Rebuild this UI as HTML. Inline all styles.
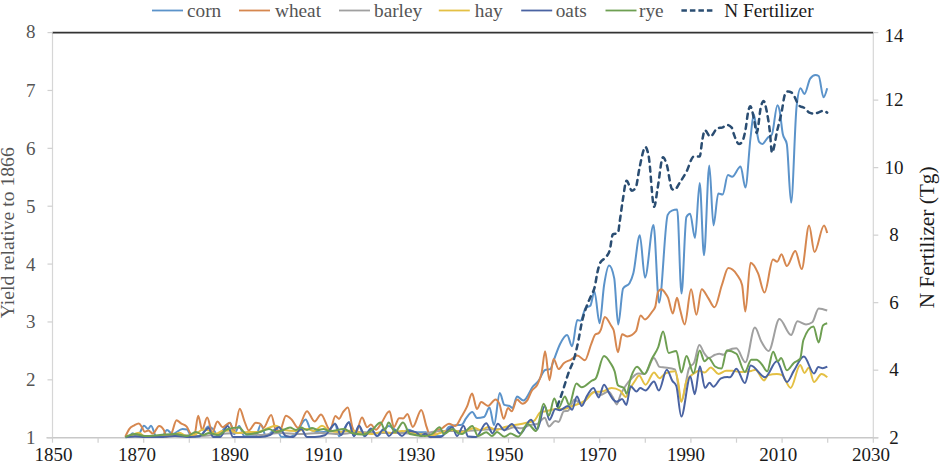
<!DOCTYPE html>
<html><head><meta charset="utf-8"><style>html,body{margin:0;padding:0;background:#fff;width:940px;height:461px;overflow:hidden;position:relative}</style></head>
<body>
<svg width="940" height="461" viewBox="0 0 940 461" style="position:absolute;left:0;top:0"><line x1="52.5" y1="32.6" x2="52.5" y2="437.7" stroke="#d6d6d6" stroke-width="1.2"/><line x1="873.3" y1="32.6" x2="873.3" y2="437.7" stroke="#d6d6d6" stroke-width="1.2"/><line x1="46.5" y1="437.7" x2="878.3" y2="437.7" stroke="#c8c8c8" stroke-width="1.5"/><line x1="52.5" y1="32.6" x2="873.3" y2="32.6" stroke="#333" stroke-width="1.7"/><line x1="52.5" y1="437.7" x2="52.5" y2="442.7" stroke="#d0d0d0" stroke-width="1.2"/><line x1="98.1" y1="437.7" x2="98.1" y2="442.7" stroke="#d0d0d0" stroke-width="1.2"/><line x1="143.7" y1="437.7" x2="143.7" y2="442.7" stroke="#d0d0d0" stroke-width="1.2"/><line x1="189.3" y1="437.7" x2="189.3" y2="442.7" stroke="#d0d0d0" stroke-width="1.2"/><line x1="234.9" y1="437.7" x2="234.9" y2="442.7" stroke="#d0d0d0" stroke-width="1.2"/><line x1="280.5" y1="437.7" x2="280.5" y2="442.7" stroke="#d0d0d0" stroke-width="1.2"/><line x1="326.1" y1="437.7" x2="326.1" y2="442.7" stroke="#d0d0d0" stroke-width="1.2"/><line x1="371.7" y1="437.7" x2="371.7" y2="442.7" stroke="#d0d0d0" stroke-width="1.2"/><line x1="417.3" y1="437.7" x2="417.3" y2="442.7" stroke="#d0d0d0" stroke-width="1.2"/><line x1="462.9" y1="437.7" x2="462.9" y2="442.7" stroke="#d0d0d0" stroke-width="1.2"/><line x1="508.5" y1="437.7" x2="508.5" y2="442.7" stroke="#d0d0d0" stroke-width="1.2"/><line x1="554.1" y1="437.7" x2="554.1" y2="442.7" stroke="#d0d0d0" stroke-width="1.2"/><line x1="599.7" y1="437.7" x2="599.7" y2="442.7" stroke="#d0d0d0" stroke-width="1.2"/><line x1="645.3" y1="437.7" x2="645.3" y2="442.7" stroke="#d0d0d0" stroke-width="1.2"/><line x1="690.9" y1="437.7" x2="690.9" y2="442.7" stroke="#d0d0d0" stroke-width="1.2"/><line x1="736.5" y1="437.7" x2="736.5" y2="442.7" stroke="#d0d0d0" stroke-width="1.2"/><line x1="782.1" y1="437.7" x2="782.1" y2="442.7" stroke="#d0d0d0" stroke-width="1.2"/><line x1="827.7" y1="437.7" x2="827.7" y2="442.7" stroke="#d0d0d0" stroke-width="1.2"/><line x1="873.3" y1="437.7" x2="873.3" y2="442.7" stroke="#d0d0d0" stroke-width="1.2"/><text x="53.5" y="460.5" text-anchor="middle" style="font-family:'Liberation Serif',serif;font-size:19px" fill="#1a1a1a" color="#1a1a1a">1850</text><text x="137" y="460.5" text-anchor="middle" style="font-family:'Liberation Serif',serif;font-size:19px" fill="#1a1a1a" color="#1a1a1a">1870</text><text x="229.9" y="460.5" text-anchor="middle" style="font-family:'Liberation Serif',serif;font-size:19px" fill="#1a1a1a" color="#1a1a1a">1890</text><text x="323.5" y="460.5" text-anchor="middle" style="font-family:'Liberation Serif',serif;font-size:19px" fill="#1a1a1a" color="#1a1a1a">1910</text><text x="416.2" y="460.5" text-anchor="middle" style="font-family:'Liberation Serif',serif;font-size:19px" fill="#1a1a1a" color="#1a1a1a">1930</text><text x="504.5" y="460.5" text-anchor="middle" style="font-family:'Liberation Serif',serif;font-size:19px" fill="#1a1a1a" color="#1a1a1a">1950</text><text x="597.7" y="460.5" text-anchor="middle" style="font-family:'Liberation Serif',serif;font-size:19px" fill="#1a1a1a" color="#1a1a1a">1970</text><text x="686" y="460.5" text-anchor="middle" style="font-family:'Liberation Serif',serif;font-size:19px" fill="#1a1a1a" color="#1a1a1a">1990</text><text x="778.3" y="460.5" text-anchor="middle" style="font-family:'Liberation Serif',serif;font-size:19px" fill="#1a1a1a" color="#1a1a1a">2010</text><text x="870.9" y="460.5" text-anchor="middle" style="font-family:'Liberation Serif',serif;font-size:19px" fill="#1a1a1a" color="#1a1a1a">2030</text><line x1="47.5" y1="437.7" x2="52.5" y2="437.7" stroke="#d0d0d0" stroke-width="1.2"/><text x="35.5" y="444.2" text-anchor="end" style="font-family:'Liberation Serif',serif;font-size:19px" fill="#555555" color="#555555">1</text><line x1="47.5" y1="379.8285714285714" x2="52.5" y2="379.8285714285714" stroke="#d0d0d0" stroke-width="1.2"/><text x="35.5" y="386.3285714285714" text-anchor="end" style="font-family:'Liberation Serif',serif;font-size:19px" fill="#555555" color="#555555">2</text><line x1="47.5" y1="321.95714285714286" x2="52.5" y2="321.95714285714286" stroke="#d0d0d0" stroke-width="1.2"/><text x="35.5" y="328.45714285714286" text-anchor="end" style="font-family:'Liberation Serif',serif;font-size:19px" fill="#555555" color="#555555">3</text><line x1="47.5" y1="264.0857142857143" x2="52.5" y2="264.0857142857143" stroke="#d0d0d0" stroke-width="1.2"/><text x="35.5" y="270.5857142857143" text-anchor="end" style="font-family:'Liberation Serif',serif;font-size:19px" fill="#555555" color="#555555">4</text><line x1="47.5" y1="206.21428571428572" x2="52.5" y2="206.21428571428572" stroke="#d0d0d0" stroke-width="1.2"/><text x="35.5" y="212.71428571428572" text-anchor="end" style="font-family:'Liberation Serif',serif;font-size:19px" fill="#555555" color="#555555">5</text><line x1="47.5" y1="148.34285714285716" x2="52.5" y2="148.34285714285716" stroke="#d0d0d0" stroke-width="1.2"/><text x="35.5" y="154.84285714285716" text-anchor="end" style="font-family:'Liberation Serif',serif;font-size:19px" fill="#555555" color="#555555">6</text><line x1="47.5" y1="90.47142857142859" x2="52.5" y2="90.47142857142859" stroke="#d0d0d0" stroke-width="1.2"/><text x="35.5" y="96.97142857142859" text-anchor="end" style="font-family:'Liberation Serif',serif;font-size:19px" fill="#555555" color="#555555">7</text><line x1="47.5" y1="32.60000000000002" x2="52.5" y2="32.60000000000002" stroke="#d0d0d0" stroke-width="1.2"/><text x="35.5" y="37.60000000000002" text-anchor="end" style="font-family:'Liberation Serif',serif;font-size:19px" fill="#555555" color="#555555">8</text><line x1="873.3" y1="437.7" x2="878.3" y2="437.7" stroke="#d0d0d0" stroke-width="1.2"/><text x="894" y="444.0" text-anchor="middle" style="font-family:'Liberation Serif',serif;font-size:19px" fill="#1a1a1a" color="#1a1a1a">2</text><line x1="873.3" y1="370.18333333333334" x2="878.3" y2="370.18333333333334" stroke="#d0d0d0" stroke-width="1.2"/><text x="894" y="376.48333333333335" text-anchor="middle" style="font-family:'Liberation Serif',serif;font-size:19px" fill="#1a1a1a" color="#1a1a1a">4</text><line x1="873.3" y1="302.66666666666663" x2="878.3" y2="302.66666666666663" stroke="#d0d0d0" stroke-width="1.2"/><text x="894" y="308.96666666666664" text-anchor="middle" style="font-family:'Liberation Serif',serif;font-size:19px" fill="#1a1a1a" color="#1a1a1a">6</text><line x1="873.3" y1="235.15" x2="878.3" y2="235.15" stroke="#d0d0d0" stroke-width="1.2"/><text x="894" y="241.45000000000002" text-anchor="middle" style="font-family:'Liberation Serif',serif;font-size:19px" fill="#1a1a1a" color="#1a1a1a">8</text><line x1="873.3" y1="167.63333333333333" x2="878.3" y2="167.63333333333333" stroke="#d0d0d0" stroke-width="1.2"/><text x="894" y="173.93333333333334" text-anchor="middle" style="font-family:'Liberation Serif',serif;font-size:19px" fill="#1a1a1a" color="#1a1a1a">10</text><line x1="873.3" y1="100.11666666666667" x2="878.3" y2="100.11666666666667" stroke="#d0d0d0" stroke-width="1.2"/><text x="894" y="106.41666666666667" text-anchor="middle" style="font-family:'Liberation Serif',serif;font-size:19px" fill="#1a1a1a" color="#1a1a1a">12</text><line x1="873.3" y1="32.60000000000002" x2="878.3" y2="32.60000000000002" stroke="#d0d0d0" stroke-width="1.2"/><text x="894" y="41.70000000000002" text-anchor="middle" style="font-family:'Liberation Serif',serif;font-size:19px" fill="#1a1a1a" color="#1a1a1a">14</text><text transform="translate(14.4,232.8) rotate(-90)" text-anchor="middle" style="font-family:'Liberation Serif',serif;font-size:19.7px" fill="#555555" color="#555555">Yield relative to 1866</text><text transform="translate(934,237.4) rotate(-90)" text-anchor="middle" style="font-family:'Liberation Serif',serif;font-size:21.3px" fill="#1a1a1a" color="#1a1a1a">N Fertilizer (Tg)</text><line x1="152" y1="10.5" x2="183" y2="10.5"  stroke="#5b93ca" stroke-width="1.8"/><text x="187" y="16.5" style="font-family:'Liberation Serif',serif;font-size:19.3px" fill="#555555" color="#555555">corn</text><line x1="239" y1="10.5" x2="270" y2="10.5"  stroke="#d6874f" stroke-width="1.8"/><text x="275" y="16.5" style="font-family:'Liberation Serif',serif;font-size:19.3px" fill="#555555" color="#555555">wheat</text><line x1="339" y1="10.5" x2="370" y2="10.5"  stroke="#a0a0a0" stroke-width="1.8"/><text x="374" y="16.5" style="font-family:'Liberation Serif',serif;font-size:19.3px" fill="#555555" color="#555555">barley</text><line x1="438.8" y1="10.5" x2="469.8" y2="10.5"  stroke="#e4c044" stroke-width="1.8"/><text x="474.8" y="16.5" style="font-family:'Liberation Serif',serif;font-size:19.3px" fill="#555555" color="#555555">hay</text><line x1="521.2" y1="10.5" x2="552.2" y2="10.5"  stroke="#4a63a2" stroke-width="1.8"/><text x="555.7" y="16.5" style="font-family:'Liberation Serif',serif;font-size:19.3px" fill="#555555" color="#555555">oats</text><line x1="605.5" y1="10.5" x2="636.5" y2="10.5"  stroke="#6e9f52" stroke-width="1.8"/><text x="639" y="16.5" style="font-family:'Liberation Serif',serif;font-size:19.3px" fill="#555555" color="#555555">rye</text><line x1="681.4" y1="10.5" x2="712.4" y2="10.5"  stroke="#2a4d72" stroke-width="2.3" stroke-dasharray="5.5,3"/><text x="724.2" y="16.5" style="font-family:'Liberation Serif',serif;font-size:19.3px" fill="#1a1a1a" color="#1a1a1a">N Fertilizer</text><path d="M125.5,437.5 C126.73,437.22 127.97,436.93 129.2,436.2 C130.40,435.49 131.60,433.20 132.8,433.2 C133.87,433.20 134.93,435.90 136.0,435.9 C136.70,435.90 137.40,435.77 138.1,435.5 C140.07,434.75 142.03,425.70 144.0,425.7 C145.40,425.70 146.80,428.90 148.2,428.9 C149.13,428.90 150.07,425.70 151.0,425.7 C152.83,425.70 154.67,437.00 156.5,437.0 C158.33,437.00 160.17,437.00 162.0,437.0 C163.67,437.00 165.33,430.00 167.0,430.0 C168.83,430.00 170.67,434.00 172.5,434.0 C175.83,434.00 179.17,429.00 182.5,429.0 C184.00,429.00 185.50,429.17 187.0,429.5 C188.33,429.80 189.67,435.71 191.0,435.9 C193.83,436.30 196.67,436.50 199.5,436.5 C202.50,436.50 205.50,426.50 208.5,426.5 C210.00,426.50 211.50,427.57 213.0,429.0 C214.67,430.59 216.33,436.00 218.0,436.0 C219.00,436.00 220.00,434.15 221.0,433.0 C222.67,431.08 224.33,427.78 226.0,426.0 C227.40,424.51 228.80,422.70 230.2,422.7 C231.50,422.70 232.80,434.20 234.1,434.2 C235.80,434.20 237.50,425.90 239.2,425.9 C240.90,425.90 242.60,436.20 244.3,436.2 C248.13,436.20 251.97,436.20 255.8,436.2 C257.50,436.20 259.20,424.60 260.9,424.6 C262.60,424.60 264.30,436.20 266.0,436.2 C267.73,436.20 269.47,433.60 271.2,432.3 C272.90,431.03 274.60,428.50 276.3,428.5 C278.00,428.50 279.70,436.72 281.4,436.8 C284.27,436.93 287.13,437.00 290.0,437.0 C292.23,437.00 294.47,434.55 296.7,432.3 C299.70,429.27 302.70,419.50 305.7,419.5 C307.40,419.50 309.10,428.84 310.8,429.8 C313.77,431.47 316.73,432.30 319.7,432.3 C322.70,432.30 325.70,431.87 328.7,431.0 C330.83,430.38 332.97,423.40 335.1,423.4 C336.40,423.40 337.70,436.20 339.0,436.2 C342.40,436.20 345.80,422.10 349.2,422.1 C350.70,422.10 352.20,436.20 353.7,436.2 C355.40,436.20 357.10,425.90 358.8,425.9 C360.70,425.90 362.60,436.20 364.5,436.2 C366.63,436.20 368.77,428.50 370.9,428.5 C372.93,428.50 374.97,436.00 377.0,436.0 C379.67,436.00 382.33,430.54 385.0,428.5 C386.27,427.53 387.53,425.90 388.8,425.9 C390.93,425.90 393.07,428.64 395.2,429.8 C397.47,431.03 399.73,433.00 402.0,433.0 C404.00,433.00 406.00,429.80 408.0,429.8 C411.00,429.80 414.00,432.30 417.0,432.3 C419.97,432.30 422.93,432.30 425.9,432.3 C428.27,432.30 430.63,436.00 433.0,436.0 C436.00,436.00 439.00,436.00 442.0,436.0 C444.30,436.00 446.60,428.05 448.9,426.9 C451.03,425.83 453.17,425.63 455.3,425.3 C457.43,424.97 459.57,425.13 461.7,424.8 C463.13,424.58 464.57,420.26 466.0,418.4 C468.10,415.68 470.20,412.00 472.3,412.0 C473.87,412.00 475.43,418.00 477.0,418.0 C479.33,418.00 481.67,417.67 484.0,417.0 C485.83,416.48 487.67,407.50 489.5,407.5 C491.00,407.50 492.50,425.00 494.0,425.0 C495.93,425.00 497.87,393.10 499.8,393.1 C501.30,393.10 502.80,404.28 504.3,404.9 C506.07,405.63 507.83,405.27 509.6,406.0 C510.60,406.42 511.60,408.00 512.6,408.0 C514.07,408.00 515.53,396.40 517.0,396.4 C519.13,396.40 521.27,400.60 523.4,400.6 C526.67,400.60 529.93,389.99 533.2,386.2 C534.90,384.23 536.60,383.26 538.3,381.1 C540.57,378.22 542.83,370.80 545.1,370.0 C546.80,369.40 548.50,369.70 550.2,369.1 C551.33,368.70 552.47,363.46 553.6,360.6 C555.80,355.05 558.00,347.94 560.2,343.7 C562.50,339.27 564.80,335.00 567.1,335.0 C568.77,335.00 570.43,346.30 572.1,346.3 C573.83,346.30 575.57,320.10 577.3,320.1 C578.37,320.10 579.43,320.70 580.5,320.7 C582.20,320.70 583.90,309.42 585.6,307.9 C587.17,306.50 588.73,307.20 590.3,305.8 C591.67,304.58 593.03,291.50 594.4,291.5 C596.13,291.50 597.87,323.20 599.6,323.2 C601.10,323.20 602.60,294.47 604.1,285.0 C605.77,274.47 607.43,265.50 609.1,265.5 C610.80,265.50 612.50,269.70 614.2,278.1 C615.53,284.69 616.87,324.50 618.2,324.5 C619.83,324.50 621.47,291.05 623.1,288.4 C625.23,284.93 627.37,286.67 629.5,283.2 C630.80,281.09 632.10,278.02 633.4,273.0 C635.53,264.76 637.67,235.20 639.8,235.2 C641.53,235.20 643.27,277.70 645.0,277.7 C647.83,277.70 650.67,225.00 653.5,225.0 C655.37,225.00 657.23,302.80 659.1,302.8 C661.97,302.80 664.83,220.77 667.7,214.9 C669.10,212.03 670.50,211.13 671.9,210.6 C673.67,209.93 675.43,209.60 677.2,209.6 C678.63,209.60 680.07,293.60 681.5,293.6 C683.13,293.60 684.77,219.73 686.4,216.9 C687.63,214.77 688.87,213.70 690.1,213.7 C691.73,213.70 693.37,238.00 695.0,238.0 C696.57,238.00 698.13,183.00 699.7,183.0 C701.13,183.00 702.57,255.30 704.0,255.3 C705.77,255.30 707.53,165.50 709.3,165.5 C710.70,165.50 712.10,225.40 713.5,225.4 C715.10,225.40 716.70,193.50 718.3,193.5 C719.73,193.50 721.17,194.60 722.6,194.6 C724.37,194.60 726.13,175.10 727.9,175.1 C729.30,175.10 730.70,176.70 732.1,176.7 C734.93,176.70 737.77,166.60 740.6,166.6 C742.20,166.60 743.80,187.50 745.4,187.5 C747.10,187.50 748.80,151.89 750.5,138.0 C751.60,129.01 752.70,114.30 753.8,114.3 C754.60,114.30 755.40,123.39 756.2,127.6 C757.17,132.69 758.13,140.63 759.1,141.9 C760.17,143.30 761.23,144.00 762.3,144.0 C764.10,144.00 765.90,139.39 767.7,137.7 C769.10,136.39 770.50,136.63 771.9,134.5 C773.73,131.71 775.57,105.20 777.4,105.2 C778.13,105.20 778.87,107.26 779.6,110.5 C780.67,115.21 781.73,128.67 782.8,134.0 C784.13,140.67 785.47,137.33 786.8,144.0 C788.23,151.17 789.67,202.60 791.1,202.6 C792.93,202.60 794.77,122.89 796.6,106.3 C797.93,94.23 799.27,88.20 800.6,88.2 C801.87,88.20 803.13,94.00 804.4,94.0 C806.33,94.00 808.27,81.30 810.2,78.6 C811.97,76.13 813.73,74.90 815.5,74.9 C816.57,74.90 817.63,75.27 818.7,76.0 C820.30,77.10 821.90,97.20 823.5,97.2 C824.73,97.20 825.97,92.70 827.2,88.2" fill="none" stroke="#5b93ca" stroke-width="2.0" stroke-linejoin="round"/><path d="M125.3,436.8 C126.60,433.89 127.90,430.97 129.2,429.1 C130.90,426.65 132.60,426.28 134.3,425.3 C135.80,424.44 137.30,423.40 138.8,423.4 C139.87,423.40 140.93,425.57 142.0,427.2 C142.83,428.48 143.67,431.70 144.5,431.7 C145.80,431.70 147.10,430.40 148.4,430.4 C149.87,430.40 151.33,433.60 152.8,433.6 C154.93,433.60 157.07,425.90 159.2,425.9 C160.70,425.90 162.20,427.20 163.7,429.8 C164.57,431.30 165.43,436.80 166.3,436.8 C168.00,436.80 169.70,435.73 171.4,433.6 C173.10,431.47 174.80,420.20 176.5,420.2 C178.00,420.20 179.50,422.43 181.0,423.4 C182.90,424.63 184.80,424.47 186.7,426.6 C188.00,428.06 189.30,432.71 190.6,433.6 C191.87,434.47 193.13,434.90 194.4,434.9 C195.67,434.90 196.93,415.70 198.2,415.7 C199.50,415.70 200.80,429.80 202.1,429.8 C203.80,429.80 205.50,417.60 207.2,417.6 C208.90,417.60 210.60,432.30 212.3,432.3 C214.00,432.30 215.70,421.40 217.4,421.4 C219.10,421.40 220.80,427.20 222.5,427.2 C224.87,427.20 227.23,422.70 229.6,422.7 C231.10,422.70 232.60,431.00 234.1,431.0 C236.00,431.00 237.90,408.70 239.8,408.7 C241.30,408.70 242.80,417.18 244.3,420.8 C245.80,424.42 247.30,430.40 248.8,430.4 C251.13,430.40 253.47,422.70 255.8,422.7 C257.07,422.70 258.33,422.93 259.6,423.4 C260.90,423.88 262.20,427.80 263.5,427.8 C266.07,427.80 268.63,415.00 271.2,415.0 C272.90,415.00 274.60,431.00 276.3,431.0 C277.57,431.00 278.83,430.80 280.1,430.4 C282.03,429.79 283.97,415.70 285.9,415.7 C287.80,415.70 289.70,417.67 291.6,419.5 C293.73,421.56 295.87,427.80 298.0,427.8 C301.00,427.80 304.00,411.20 307.0,411.2 C309.53,411.20 312.07,421.40 314.6,421.4 C316.73,421.40 318.87,414.40 321.0,414.4 C324.00,414.40 327.00,429.80 330.0,429.8 C331.80,429.80 333.60,416.00 335.4,416.0 C336.60,416.00 337.80,418.90 339.0,418.9 C340.27,418.90 341.53,414.26 342.8,412.5 C344.50,410.13 346.20,407.40 347.9,407.4 C349.40,407.40 350.90,422.70 352.4,427.2 C353.47,430.40 354.53,433.60 355.6,433.6 C357.73,433.60 359.87,417.60 362.0,417.6 C363.70,417.60 365.40,427.20 367.1,427.2 C368.37,427.20 369.63,424.60 370.9,424.6 C372.60,424.60 374.30,429.80 376.0,429.8 C377.73,429.80 379.47,425.69 381.2,423.4 C383.97,419.74 386.73,411.20 389.5,411.2 C390.97,411.20 392.43,427.20 393.9,427.2 C395.63,427.20 397.37,418.20 399.1,418.2 C400.47,418.20 401.83,418.40 403.2,418.4 C404.60,418.40 406.00,414.10 407.4,414.1 C409.20,414.10 411.00,426.90 412.8,426.9 C415.63,426.90 418.47,409.90 421.3,409.9 C423.07,409.90 424.83,422.00 426.6,426.9 C428.03,430.87 429.47,437.30 430.9,437.3 C432.67,437.30 434.43,432.71 436.2,431.2 C438.33,429.37 440.47,429.26 442.6,428.0 C444.70,426.76 446.80,423.70 448.9,423.7 C451.03,423.70 453.17,425.90 455.3,425.9 C457.43,425.90 459.57,419.86 461.7,416.3 C463.47,413.35 465.23,410.58 467.0,406.7 C468.70,402.96 470.40,393.60 472.1,393.6 C473.70,393.60 475.30,409.00 476.9,409.0 C478.33,409.00 479.77,402.10 481.2,402.1 C483.50,402.10 485.80,405.90 488.1,405.9 C490.57,405.90 493.03,399.50 495.5,399.5 C496.77,399.50 498.03,400.95 499.3,403.7 C500.77,406.89 502.23,418.70 503.7,418.7 C505.13,418.70 506.57,408.10 508.0,408.1 C509.23,408.10 510.47,411.30 511.7,411.3 C513.47,411.30 515.23,399.60 517.0,399.6 C518.77,399.60 520.53,403.80 522.3,403.8 C524.10,403.80 525.90,402.40 527.7,399.6 C528.97,397.63 530.23,393.55 531.5,391.3 C533.47,387.80 535.43,388.60 537.4,384.5 C538.83,381.51 540.27,379.37 541.7,372.6 C542.83,367.25 543.97,351.30 545.1,351.3 C546.53,351.30 547.97,380.20 549.4,380.2 C550.80,380.20 552.20,358.90 553.6,358.9 C555.30,358.90 557.00,369.10 558.7,369.1 C560.40,369.10 562.10,364.69 563.8,363.2 C566.07,361.22 568.33,361.08 570.6,359.8 C572.87,358.52 575.13,355.50 577.4,355.5 C579.90,355.50 582.40,360.30 584.9,360.3 C587.03,360.30 589.17,348.89 591.3,343.8 C592.70,340.46 594.10,335.26 595.5,334.3 C596.57,333.57 597.63,333.93 598.7,333.2 C599.43,332.70 600.17,331.23 600.9,329.6 C602.20,326.71 603.50,316.90 604.8,316.9 C606.93,316.90 609.07,322.28 611.2,325.8 C612.00,327.12 612.80,327.62 613.6,330.0 C615.03,334.27 616.47,352.30 617.9,352.3 C619.30,352.30 620.70,334.30 622.1,334.3 C623.87,334.30 625.63,336.40 627.4,336.4 C630.27,336.40 633.13,334.63 636.0,331.1 C637.53,329.21 639.07,315.60 640.6,315.6 C642.07,315.60 643.53,319.40 645.0,319.4 C647.37,319.40 649.73,315.10 652.1,311.7 C653.17,310.17 654.23,310.00 655.3,306.6 C656.20,303.73 657.10,293.47 658.0,292.0 C659.10,290.20 660.20,289.30 661.3,289.3 C662.50,289.30 663.70,291.03 664.9,292.6 C665.93,293.95 666.97,295.33 668.0,297.7 C669.60,301.37 671.20,313.50 672.8,313.5 C674.20,313.50 675.60,297.70 677.0,297.7 C678.00,297.70 679.00,305.60 680.0,309.2 C681.57,314.84 683.13,324.40 684.7,324.4 C686.83,324.40 688.97,289.30 691.1,289.3 C692.87,289.30 694.63,314.80 696.4,314.8 C698.17,314.80 699.93,289.30 701.7,289.3 C703.83,289.30 705.97,294.80 708.1,297.8 C710.23,300.80 712.37,307.30 714.5,307.3 C716.97,307.30 719.43,291.94 721.9,285.0 C724.03,279.00 726.17,268.10 728.3,268.1 C731.13,268.10 733.97,270.23 736.8,274.5 C738.57,277.16 740.33,278.03 742.1,285.1 C743.17,289.37 744.23,311.60 745.3,311.6 C747.07,311.60 748.83,262.80 750.6,262.8 C753.10,262.80 755.60,267.73 758.1,273.4 C760.23,278.24 762.37,292.60 764.5,292.6 C767.33,292.60 770.17,259.60 773.0,259.6 C774.40,259.60 775.80,261.70 777.2,261.7 C778.63,261.70 780.07,254.30 781.5,254.3 C783.27,254.30 785.03,266.00 786.8,266.0 C789.63,266.00 792.47,251.10 795.3,251.1 C797.43,251.10 799.57,269.10 801.7,269.1 C804.17,269.10 806.63,225.50 809.1,225.5 C810.90,225.50 812.70,252.10 814.5,252.1 C817.67,252.10 820.83,225.50 824.0,225.5 C825.07,225.50 826.13,229.25 827.2,233.0" fill="none" stroke="#d6874f" stroke-width="2.0" stroke-linejoin="round"/><path d="M125.5,437.0 C130.33,436.50 135.17,436.00 140.0,436.0 C146.67,436.00 153.33,436.00 160.0,436.0 C166.67,436.00 173.33,435.00 180.0,435.0 C186.67,435.00 193.33,436.00 200.0,436.0 C206.67,436.00 213.33,434.50 220.0,434.0 C226.67,433.50 233.33,433.00 240.0,433.0 C246.67,433.00 253.33,435.00 260.0,435.0 C266.67,435.00 273.33,433.00 280.0,433.0 C286.67,433.00 293.33,434.00 300.0,434.0 C306.67,434.00 313.33,433.00 320.0,433.0 C326.67,433.00 333.33,434.00 340.0,434.0 C346.67,434.00 353.33,432.00 360.0,432.0 C366.67,432.00 373.33,433.00 380.0,433.0 C386.67,433.00 393.33,433.00 400.0,433.0 C406.67,433.00 413.33,434.00 420.0,434.0 C426.67,434.00 433.33,431.00 440.0,431.0 C446.67,431.00 453.33,431.00 460.0,431.0 C466.67,431.00 473.33,430.33 480.0,430.0 C486.67,429.67 493.33,429.00 500.0,429.0 C502.13,429.00 504.27,429.40 506.4,429.4 C508.87,429.40 511.33,427.20 513.8,427.2 C516.30,427.20 518.80,428.30 521.3,428.3 C524.13,428.30 526.97,425.82 529.8,425.1 C532.27,424.47 534.73,424.73 537.2,424.0 C539.70,423.26 542.20,417.70 544.7,417.7 C546.13,417.70 547.57,426.50 549.0,426.5 C551.10,426.50 553.20,420.90 555.3,420.9 C556.37,420.90 557.43,421.90 558.5,421.9 C560.27,421.90 562.03,411.79 563.8,411.3 C565.23,410.90 566.67,411.10 568.1,410.7 C570.23,410.10 572.37,399.60 574.5,399.6 C576.67,399.60 578.83,404.00 581.0,404.0 C583.33,404.00 585.67,399.12 588.0,397.0 C590.00,395.18 592.00,392.00 594.0,392.0 C596.00,392.00 598.00,395.00 600.0,395.0 C602.77,395.00 605.53,391.60 608.3,391.6 C609.73,391.60 611.17,394.73 612.6,396.9 C614.00,399.02 615.40,404.40 616.8,404.4 C618.03,404.40 619.27,397.56 620.5,394.8 C622.10,391.22 623.70,388.78 625.3,386.3 C627.53,382.84 629.77,380.18 632.0,378.0 C634.03,376.01 636.07,373.50 638.1,373.5 C640.37,373.50 642.63,373.90 644.9,373.9 C647.90,373.90 650.90,357.90 653.9,357.9 C655.80,357.90 657.70,366.46 659.6,366.9 C661.33,367.30 663.07,367.26 664.8,367.5 C668.20,367.97 671.60,368.13 675.0,369.4 C677.13,370.19 679.27,401.00 681.4,401.0 C683.97,401.00 686.53,373.84 689.1,368.1 C690.80,364.30 692.50,366.20 694.2,362.4 C695.90,358.60 697.60,345.10 699.3,345.1 C701.03,345.10 702.77,351.44 704.5,353.7 C705.90,355.53 707.30,358.00 708.7,358.0 C710.83,358.00 712.97,355.56 715.1,354.8 C716.53,354.29 717.97,353.70 719.4,353.7 C720.80,353.70 722.20,354.80 723.6,354.8 C725.03,354.80 726.47,351.24 727.9,350.5 C730.73,349.03 733.57,348.30 736.4,348.3 C739.40,348.30 742.40,362.30 745.4,362.3 C748.57,362.30 751.73,327.60 754.9,327.6 C757.03,327.60 759.17,337.65 761.3,341.4 C763.77,345.74 766.23,351.00 768.7,351.0 C772.27,351.00 775.83,319.00 779.4,319.0 C783.30,319.00 787.20,335.00 791.1,335.0 C793.20,335.00 795.30,321.20 797.4,321.2 C800.27,321.20 803.13,324.40 806.0,324.4 C808.10,324.40 810.20,323.67 812.3,322.2 C814.43,320.71 816.57,308.40 818.7,308.4 C821.53,308.40 824.37,309.45 827.2,310.5" fill="none" stroke="#a0a0a0" stroke-width="2.0" stroke-linejoin="round"/><path d="M125.5,437.0 C126.87,436.65 128.23,436.29 129.6,435.9 C132.77,434.98 135.93,432.70 139.1,432.7 C140.73,432.70 142.37,436.00 144.0,436.0 C149.33,436.00 154.67,436.00 160.0,436.0 C163.67,436.00 167.33,435.97 171.0,435.9 C173.87,435.85 176.73,432.70 179.6,432.7 C181.73,432.70 183.87,436.00 186.0,436.0 C188.83,436.00 191.67,435.60 194.5,434.8 C197.33,434.00 200.17,429.50 203.0,429.5 C205.00,429.50 207.00,429.90 209.0,430.5 C211.33,431.20 213.67,433.70 216.0,433.7 C218.00,433.70 220.00,431.27 222.0,431.0 C224.47,430.67 226.93,430.50 229.4,430.5 C232.27,430.50 235.13,433.00 238.0,433.0 C241.33,433.00 244.67,432.00 248.0,432.0 C251.33,432.00 254.67,432.00 258.0,432.0 C260.67,432.00 263.33,429.96 266.0,429.0 C269.23,427.84 272.47,425.70 275.7,425.7 C278.47,425.70 281.23,429.54 284.0,430.0 C288.00,430.67 292.00,431.00 296.0,431.0 C299.87,431.00 303.73,429.00 307.6,429.0 C309.73,429.00 311.87,431.00 314.0,431.0 C316.67,431.00 319.33,425.70 322.0,425.7 C324.67,425.70 327.33,430.41 330.0,431.0 C333.00,431.67 336.00,432.00 339.0,432.0 C343.33,432.00 347.67,430.50 352.0,430.5 C355.33,430.50 358.67,432.42 362.0,433.0 C365.33,433.58 368.67,434.00 372.0,434.0 C375.33,434.00 378.67,432.00 382.0,432.0 C385.33,432.00 388.67,433.00 392.0,433.0 C395.33,433.00 398.67,431.00 402.0,431.0 C406.33,431.00 410.67,432.24 415.0,433.0 C420.00,433.88 425.00,436.00 430.0,436.0 C433.33,436.00 436.67,433.96 440.0,433.0 C443.67,431.95 447.33,430.00 451.0,430.0 C454.67,430.00 458.33,432.00 462.0,432.0 C466.17,432.00 470.33,428.00 474.5,428.0 C476.63,428.00 478.77,430.10 480.9,430.1 C483.37,430.10 485.83,426.90 488.3,426.9 C490.87,426.90 493.43,430.00 496.0,430.0 C499.00,430.00 502.00,427.80 505.0,427.0 C508.30,426.12 511.60,425.74 514.9,425.1 C518.43,424.41 521.97,423.80 525.5,423.0 C528.33,422.36 531.17,422.30 534.0,420.9 C536.13,419.85 538.27,413.11 540.4,412.3 C542.17,411.63 543.93,411.65 545.7,411.3 C549.47,410.56 553.23,408.90 557.0,408.9 C559.27,408.90 561.53,409.10 563.8,409.1 C566.63,409.10 569.47,407.10 572.3,406.0 C576.57,404.35 580.83,403.59 585.1,400.6 C588.23,398.41 591.37,392.52 594.5,392.1 C596.97,391.77 599.43,391.93 601.9,391.6 C605.10,391.17 608.30,387.90 611.5,387.9 C614.33,387.90 617.17,388.77 620.0,390.5 C621.97,391.70 623.93,396.90 625.9,396.9 C627.13,396.90 628.37,391.77 629.6,389.5 C631.37,386.25 633.13,383.52 634.9,381.0 C636.30,379.00 637.70,375.60 639.1,375.6 C641.23,375.60 643.37,384.70 645.5,384.7 C648.33,384.70 651.17,372.40 654.0,372.4 C655.80,372.40 657.60,378.30 659.4,378.3 C661.43,378.30 663.47,374.16 665.5,373.3 C668.67,371.97 671.83,371.30 675.0,371.3 C676.07,371.30 677.13,376.95 678.2,382.2 C679.23,387.28 680.27,402.00 681.3,402.0 C683.03,402.00 684.77,384.37 686.5,380.9 C689.07,375.77 691.63,374.98 694.2,373.2 C695.90,372.02 697.60,370.70 699.3,370.7 C701.00,370.70 702.70,372.60 704.4,372.6 C706.53,372.60 708.67,367.50 710.8,367.5 C713.37,367.50 715.93,373.90 718.5,373.9 C721.03,373.90 723.57,370.70 726.1,370.7 C728.23,370.70 730.37,370.70 732.5,370.7 C735.00,370.70 737.50,372.00 740.0,372.0 C743.77,372.00 747.53,371.63 751.3,370.9 C752.70,370.63 754.10,369.80 755.5,369.8 C758.33,369.80 761.17,380.40 764.0,380.4 C765.43,380.40 766.87,375.47 768.3,375.1 C771.13,374.37 773.97,374.00 776.8,374.0 C778.57,374.00 780.33,374.37 782.1,375.1 C784.93,376.28 787.77,387.90 790.6,387.9 C793.80,387.90 797.00,365.00 800.2,365.0 C801.63,365.00 803.07,373.00 804.5,373.0 C805.90,373.00 807.30,367.70 808.7,367.7 C810.47,367.70 812.23,382.00 814.0,382.0 C816.50,382.00 819.00,374.00 821.5,374.0 C823.43,374.00 825.37,375.60 827.3,377.2" fill="none" stroke="#e4c044" stroke-width="2.0" stroke-linejoin="round"/><path d="M125.5,437.0 C128.67,436.75 131.83,436.50 135.0,436.5 C138.33,436.50 141.67,437.00 145.0,437.0 C150.00,437.00 155.00,437.00 160.0,437.0 C165.00,437.00 170.00,436.00 175.0,436.0 C180.00,436.00 185.00,437.00 190.0,437.0 C193.33,437.00 196.67,436.67 200.0,436.0 C202.90,435.42 205.80,428.00 208.7,428.0 C210.13,428.00 211.57,437.00 213.0,437.0 C215.33,437.00 217.67,437.00 220.0,437.0 C222.60,437.00 225.20,426.00 227.8,426.0 C229.53,426.00 231.27,437.00 233.0,437.0 C237.00,437.00 241.00,437.00 245.0,437.0 C250.00,437.00 255.00,437.00 260.0,437.0 C263.33,437.00 266.67,436.33 270.0,435.0 C272.97,433.81 275.93,427.30 278.9,427.3 C281.27,427.30 283.63,435.32 286.0,436.0 C288.33,436.67 290.67,437.00 293.0,437.0 C295.73,437.00 298.47,428.90 301.2,428.9 C303.13,428.90 305.07,437.00 307.0,437.0 C309.67,437.00 312.33,437.00 315.0,437.0 C318.27,437.00 321.53,436.43 324.8,435.3 C328.27,434.10 331.73,424.10 335.2,424.1 C337.13,424.10 339.07,435.00 341.0,435.0 C343.57,435.00 346.13,422.50 348.7,422.5 C350.47,422.50 352.23,436.00 354.0,436.0 C355.70,436.00 357.40,425.70 359.1,425.7 C361.07,425.70 363.03,436.00 365.0,436.0 C367.00,436.00 369.00,428.90 371.0,428.9 C373.00,428.90 375.00,436.00 377.0,436.0 C379.27,436.00 381.53,428.90 383.8,428.9 C385.53,428.90 387.27,436.00 389.0,436.0 C391.00,436.00 393.00,430.50 395.0,430.5 C397.33,430.50 399.67,436.00 402.0,436.0 C404.00,436.00 406.00,431.00 408.0,431.0 C410.57,431.00 413.13,431.37 415.7,432.1 C417.47,432.60 419.23,436.00 421.0,436.0 C422.43,436.00 423.87,433.70 425.3,433.7 C426.87,433.70 428.43,437.00 430.0,437.0 C433.33,437.00 436.67,437.00 440.0,437.0 C444.13,437.00 448.27,427.30 452.4,427.3 C453.93,427.30 455.47,436.00 457.0,436.0 C459.17,436.00 461.33,425.70 463.5,425.7 C465.03,425.70 466.57,436.31 468.1,436.5 C470.73,436.83 473.37,437.00 476.0,437.0 C479.40,437.00 482.80,423.20 486.2,423.2 C488.33,423.20 490.47,433.30 492.6,433.3 C494.37,433.30 496.13,423.70 497.9,423.7 C500.03,423.70 502.17,430.40 504.3,430.4 C506.77,430.40 509.23,424.00 511.7,424.0 C514.53,424.00 517.37,433.60 520.2,433.6 C523.77,433.60 527.33,419.80 530.9,419.8 C533.00,419.80 535.10,429.40 537.2,429.4 C539.70,429.40 542.20,406.00 544.7,406.0 C546.30,406.00 547.90,419.80 549.5,419.8 C551.43,419.80 553.37,409.10 555.3,409.1 C556.73,409.10 558.17,410.20 559.6,410.2 C562.43,410.20 565.27,406.00 568.1,406.0 C569.43,406.00 570.77,409.70 572.1,409.7 C573.70,409.70 575.30,396.40 576.9,396.4 C578.50,396.40 580.10,406.00 581.7,406.0 C583.47,406.00 585.23,398.74 587.0,395.9 C589.13,392.47 591.27,387.90 593.4,387.9 C595.17,387.90 596.93,397.40 598.7,397.4 C600.47,397.40 602.23,384.70 604.0,384.7 C605.80,384.70 607.60,390.84 609.4,393.7 C610.80,395.92 612.20,398.78 613.6,400.1 C614.67,401.11 615.73,401.70 616.8,401.7 C618.57,401.70 620.33,399.00 622.1,399.0 C623.53,399.00 624.97,404.90 626.4,404.9 C627.80,404.90 629.20,386.30 630.6,386.3 C632.57,386.30 634.53,391.60 636.5,391.6 C637.73,391.60 638.97,387.90 640.2,387.9 C641.97,387.90 643.73,390.50 645.5,390.5 C648.33,390.50 651.17,381.50 654.0,381.5 C655.60,381.50 657.20,390.50 658.8,390.5 C661.47,390.50 664.13,369.80 666.8,369.8 C668.67,369.80 670.53,377.94 672.4,380.9 C673.70,382.96 675.00,382.60 676.3,386.0 C677.97,390.36 679.63,416.60 681.3,416.6 C684.30,416.60 687.30,376.40 690.3,376.4 C691.80,376.40 693.30,394.30 694.8,394.3 C696.50,394.30 698.20,366.20 699.9,366.2 C701.60,366.20 703.30,388.00 705.0,388.0 C706.50,388.00 708.00,382.80 709.5,382.8 C710.80,382.80 712.10,386.70 713.4,386.7 C715.93,386.70 718.47,379.43 721.0,378.4 C723.13,377.53 725.27,377.10 727.4,377.1 C728.27,377.10 729.13,377.20 730.0,377.2 C732.13,377.20 734.27,368.70 736.4,368.7 C739.23,368.70 742.07,383.10 744.9,383.1 C746.83,383.10 748.77,365.50 750.7,365.5 C755.50,365.50 760.30,377.20 765.1,377.2 C769.00,377.20 772.90,361.30 776.8,361.3 C780.17,361.30 783.53,382.00 786.9,382.0 C789.20,382.00 791.50,374.43 793.8,370.9 C797.17,365.73 800.53,356.50 803.9,356.5 C807.27,356.50 810.63,373.50 814.0,373.5 C815.43,373.50 816.87,367.10 818.3,367.1 C819.73,367.10 821.17,368.20 822.6,368.2 C824.17,368.20 825.73,367.40 827.3,366.6" fill="none" stroke="#4a63a2" stroke-width="2.0" stroke-linejoin="round"/><path d="M125.5,437.0 C128.67,435.50 131.83,434.00 135.0,434.0 C138.33,434.00 141.67,436.00 145.0,436.0 C150.00,436.00 155.00,435.33 160.0,435.0 C165.00,434.67 170.00,434.00 175.0,434.0 C179.00,434.00 183.00,436.00 187.0,436.0 C190.00,436.00 193.00,432.00 196.0,432.0 C198.33,432.00 200.67,435.00 203.0,435.0 C205.00,435.00 207.00,433.00 209.0,433.0 C212.00,433.00 215.00,435.00 218.0,435.0 C221.33,435.00 224.67,429.91 228.0,429.0 C231.67,428.00 235.33,427.50 239.0,427.5 C241.67,427.50 244.33,434.50 247.0,434.5 C251.33,434.50 255.67,433.19 260.0,432.0 C263.00,431.17 266.00,429.00 269.0,429.0 C271.33,429.00 273.67,432.00 276.0,432.0 C278.00,432.00 280.00,431.11 282.0,430.5 C284.67,429.69 287.33,427.50 290.0,427.5 C292.00,427.50 294.00,430.00 296.0,430.0 C297.67,430.00 299.33,427.50 301.0,427.5 C303.00,427.50 305.00,430.00 307.0,430.0 C308.67,430.00 310.33,428.00 312.0,428.0 C314.00,428.00 316.00,430.00 318.0,430.0 C319.83,430.00 321.67,429.00 323.5,429.0 C325.53,429.00 327.57,431.30 329.6,431.3 C334.40,431.30 339.20,429.00 344.0,429.0 C346.67,429.00 349.33,432.27 352.0,433.0 C355.67,434.00 359.33,434.50 363.0,434.5 C366.00,434.50 369.00,432.07 372.0,430.0 C374.87,428.02 377.73,422.50 380.6,422.5 C382.07,422.50 383.53,430.00 385.0,430.0 C386.20,430.00 387.40,422.50 388.6,422.5 C390.73,422.50 392.87,432.00 395.0,432.0 C397.67,432.00 400.33,422.50 403.0,422.5 C405.33,422.50 407.67,433.38 410.0,434.0 C415.00,435.33 420.00,436.00 425.0,436.0 C427.33,436.00 429.67,435.33 432.0,434.0 C434.53,432.55 437.07,427.30 439.6,427.3 C441.07,427.30 442.53,434.00 444.0,434.0 C446.80,434.00 449.60,428.90 452.4,428.9 C454.27,428.90 456.13,432.16 458.0,433.0 C459.33,433.60 460.67,434.00 462.0,434.0 C465.43,434.00 468.87,425.90 472.3,425.9 C474.20,425.90 476.10,436.00 478.0,436.0 C480.73,436.00 483.47,432.20 486.2,432.2 C488.13,432.20 490.07,436.00 492.0,436.0 C493.67,436.00 495.33,432.00 497.0,432.0 C499.43,432.00 501.87,436.80 504.3,436.8 C506.40,436.80 508.50,433.60 510.6,433.6 C513.10,433.60 515.60,436.80 518.1,436.8 C521.30,436.80 524.50,424.00 527.7,424.0 C530.53,424.00 533.37,431.00 536.2,431.0 C538.67,431.00 541.13,403.80 543.6,403.8 C545.37,403.80 547.13,415.50 548.9,415.5 C550.70,415.50 552.50,398.50 554.3,398.5 C555.70,398.50 557.10,408.10 558.5,408.1 C560.63,408.10 562.77,396.40 564.9,396.4 C566.30,396.40 567.70,404.90 569.1,404.9 C571.53,404.90 573.97,383.60 576.4,383.6 C578.17,383.60 579.93,387.30 581.7,387.3 C585.23,387.30 588.77,382.29 592.3,380.4 C593.37,379.83 594.43,379.87 595.5,378.8 C598.33,375.97 601.17,356.10 604.0,356.1 C606.13,356.10 608.27,359.55 610.4,363.0 C611.83,365.32 613.27,366.77 614.7,371.5 C615.77,375.02 616.83,384.13 617.9,385.2 C620.03,387.33 622.17,386.27 624.3,388.4 C625.00,389.10 625.70,393.70 626.4,393.7 C627.93,393.70 629.47,381.29 631.0,377.0 C633.00,371.40 635.00,366.70 637.0,366.7 C639.50,366.70 642.00,374.00 644.5,374.0 C646.97,374.00 649.43,363.48 651.9,358.7 C654.03,354.56 656.17,352.58 658.3,347.0 C659.90,342.81 661.50,331.60 663.1,331.6 C664.97,331.60 666.83,353.00 668.7,353.0 C671.23,353.00 673.77,350.90 676.3,350.9 C678.00,350.90 679.70,372.60 681.4,372.6 C683.10,372.60 684.80,356.00 686.5,356.0 C688.83,356.00 691.17,373.20 693.5,373.2 C695.57,373.20 697.63,350.50 699.7,350.5 C701.30,350.50 702.90,361.20 704.5,361.2 C705.90,361.20 707.30,358.00 708.7,358.0 C710.83,358.00 712.97,365.10 715.1,366.5 C717.23,367.90 719.37,368.60 721.5,368.6 C723.27,368.60 725.03,350.50 726.8,350.5 C730.00,350.50 733.20,351.60 736.4,353.8 C739.23,355.75 742.07,371.90 744.9,371.9 C747.03,371.90 749.17,359.70 751.3,359.7 C753.07,359.70 754.83,359.70 756.6,359.7 C758.37,359.70 760.13,362.55 761.9,364.5 C763.67,366.45 765.43,371.40 767.2,371.4 C769.17,371.40 771.13,351.70 773.1,351.7 C774.70,351.70 776.30,361.30 777.9,361.3 C778.97,361.30 780.03,358.10 781.1,358.1 C783.03,358.10 784.97,370.30 786.9,370.3 C789.20,370.30 791.50,364.89 793.8,362.9 C795.93,361.06 798.07,361.47 800.2,358.6 C801.27,357.17 802.33,342.88 803.4,340.0 C806.73,331.00 810.07,326.50 813.4,326.5 C815.17,326.50 816.93,342.40 818.7,342.4 C820.13,342.40 821.57,326.83 823.0,325.4 C824.40,324.00 825.80,323.65 827.2,323.3" fill="none" stroke="#6e9f52" stroke-width="2.0" stroke-linejoin="round"/><path d="M557.4,406.0 C558.97,401.81 560.53,397.61 562.1,393.0 C564.07,387.21 566.03,380.10 568.0,374.3 C570.33,367.42 572.67,364.48 575.0,355.5 C576.17,351.01 577.33,345.71 578.5,340.0 C579.57,334.78 580.63,327.88 581.7,323.0 C583.50,314.76 585.30,309.93 587.1,305.0 C588.40,301.44 589.70,299.08 591.0,296.0 C592.23,293.07 593.47,292.05 594.7,287.0 C595.63,283.18 596.57,276.08 597.5,272.0 C598.37,268.21 599.23,264.76 600.1,263.0 C602.07,259.00 604.03,259.99 606.0,257.0 C607.27,255.08 608.53,254.67 609.8,250.0 C610.80,246.32 611.80,234.98 612.8,234.4 C614.53,233.40 616.27,233.90 618.0,232.9 C618.53,232.59 619.07,226.06 619.6,222.5 C620.67,215.38 621.73,206.54 622.8,200.0 C624.07,192.24 625.33,180.80 626.6,180.8 C628.37,180.80 630.13,190.70 631.9,190.7 C633.17,190.70 634.43,189.70 635.7,187.7 C636.97,185.70 638.23,173.65 639.5,167.9 C641.50,158.82 643.50,147.00 645.5,147.0 C646.53,147.00 647.57,150.56 648.6,155.8 C650.47,165.27 652.33,206.80 654.2,206.8 C655.37,206.80 656.53,194.20 657.7,187.7 C659.47,177.86 661.23,157.30 663.0,157.3 C664.27,157.30 665.53,160.96 666.8,164.9 C668.53,170.29 670.27,187.70 672.0,189.0 C672.80,189.60 673.60,189.90 674.4,189.9 C676.27,189.90 678.13,184.97 680.0,182.2 C682.13,179.03 684.27,175.80 686.4,171.9 C688.87,167.39 691.33,156.50 693.8,156.5 C695.77,156.50 697.73,156.50 699.7,156.5 C700.57,156.50 701.43,144.38 702.3,140.0 C703.17,135.62 704.03,130.20 704.9,130.2 C706.67,130.20 708.43,136.60 710.2,136.6 C712.70,136.60 715.20,128.67 717.7,128.1 C719.17,127.77 720.63,127.93 722.1,127.6 C723.70,127.24 725.30,124.90 726.9,124.9 C728.50,124.90 730.10,125.80 731.7,127.6 C732.40,128.39 733.10,132.09 733.8,134.0 C735.53,138.72 737.27,144.00 739.0,144.0 C740.00,144.00 741.00,143.33 742.0,142.0 C743.17,140.44 744.33,135.90 745.5,129.7 C746.40,124.92 747.30,115.52 748.2,111.6 C748.90,108.55 749.60,106.30 750.3,106.3 C751.53,106.30 752.77,113.54 754.0,119.0 C754.90,122.98 755.80,132.90 756.7,132.9 C758.13,132.90 759.57,111.46 761.0,106.3 C761.87,103.18 762.73,101.00 763.6,101.0 C764.67,101.00 765.73,106.28 766.8,111.6 C767.87,116.92 768.93,123.32 770.0,132.9 C770.63,138.59 771.27,152.60 771.9,152.6 C773.73,152.60 775.57,137.38 777.4,129.7 C778.83,123.70 780.27,118.54 781.7,111.6 C782.77,106.44 783.83,96.73 784.9,94.6 C785.97,92.47 787.03,91.40 788.1,91.4 C789.17,91.40 790.23,91.73 791.3,92.4 C792.37,93.07 793.43,94.95 794.5,96.7 C795.90,98.99 797.30,103.80 798.7,105.2 C800.83,107.33 802.97,106.70 805.1,108.4 C806.53,109.55 807.97,112.02 809.4,112.7 C810.80,113.37 812.20,113.70 813.6,113.7 C815.03,113.70 816.47,113.11 817.9,112.7 C819.60,112.21 821.30,110.90 823.0,110.9 C824.40,110.90 825.80,111.75 827.2,112.6" fill="none" stroke="#2a4d72" stroke-width="2.5" stroke-dasharray="5,5" stroke-linecap="round" stroke-linejoin="round"/></svg>
</body></html>
